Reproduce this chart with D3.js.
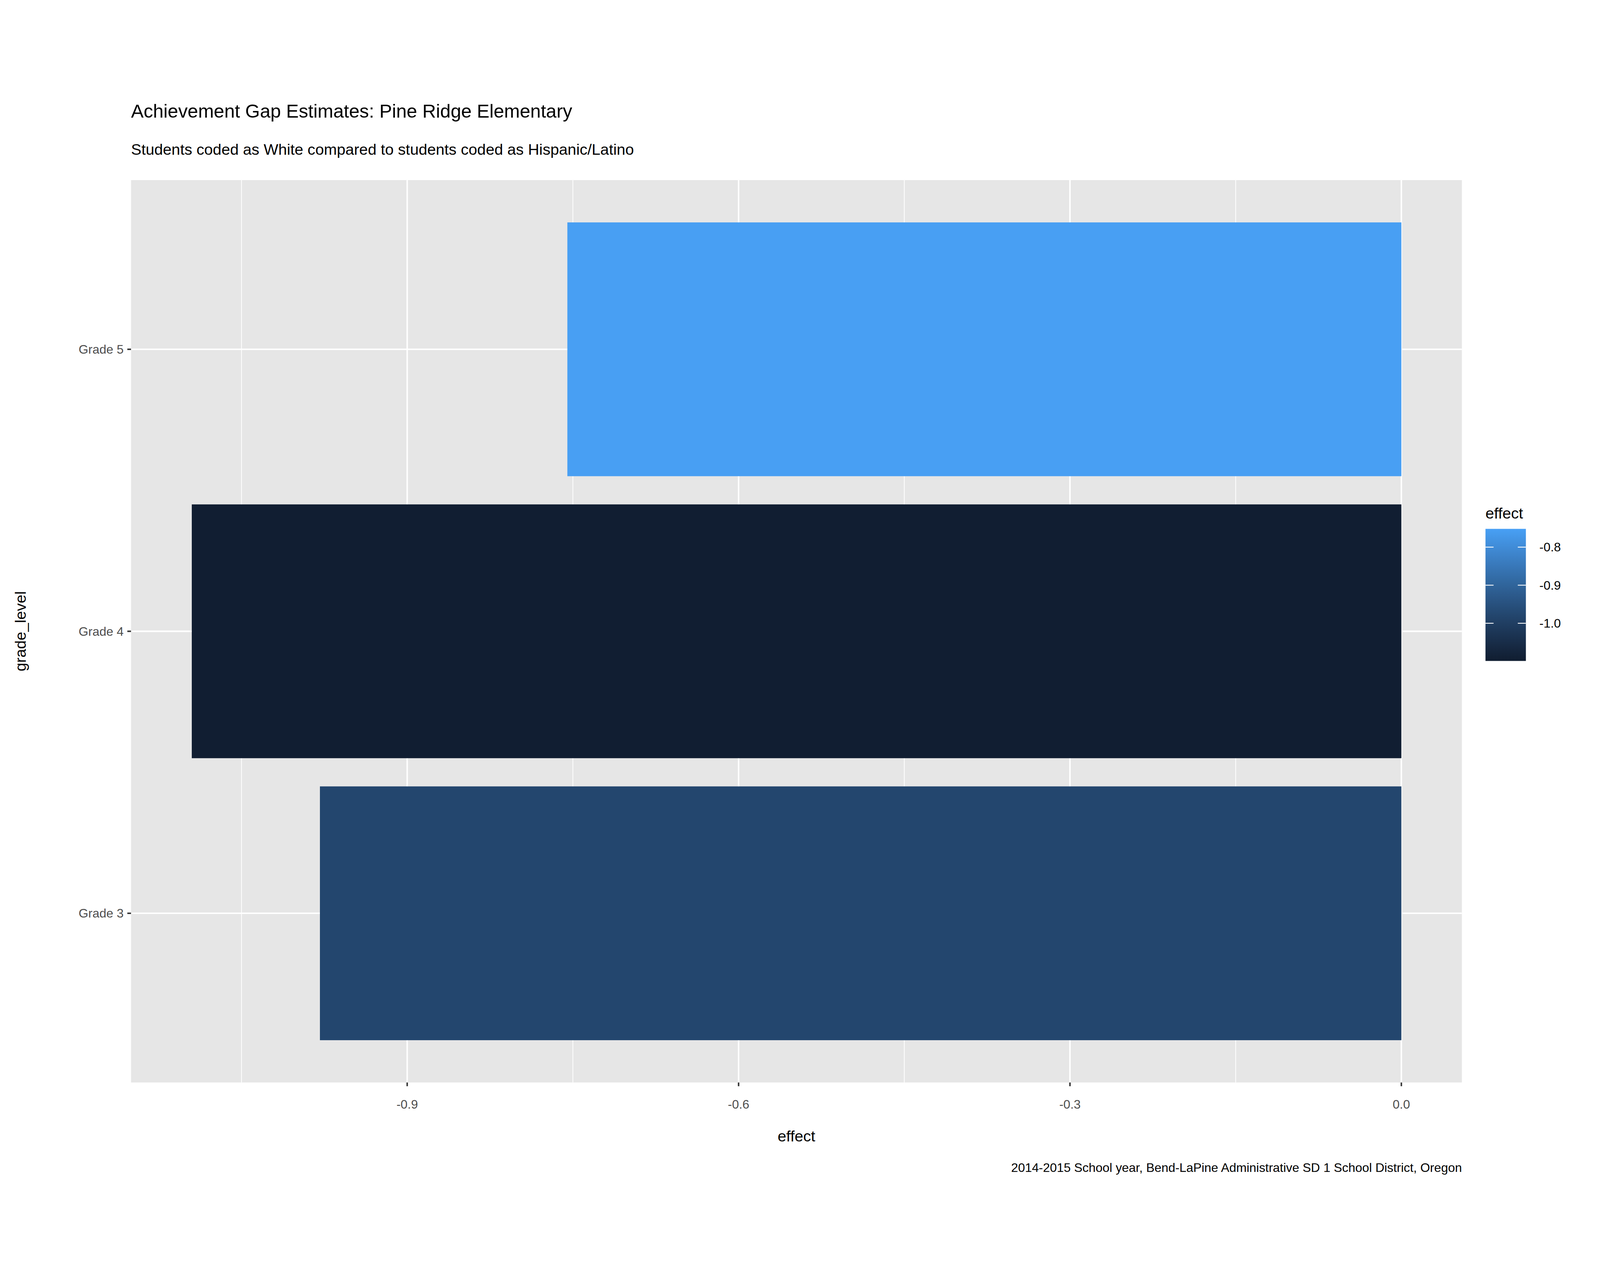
<!DOCTYPE html>
<html><head><meta charset="utf-8">
<script src="https://cdn.jsdelivr.net/npm/d3@7"></script>
<style>html,body{margin:0;padding:0;background:#fff;overflow:hidden}svg{display:block;width:100vw;height:100vh}</style></head>
<body><svg id="c" viewBox="0 0 4750 3250" preserveAspectRatio="xMidYMid meet"></svg>
<script>
const categories = ["Grade 3","Grade 4","Grade 5"];
const effects = [-0.979, -1.095, -0.755];
const xTicks = [-0.9,-0.6,-0.3,0.0];
const xMinor = [-1.05,-0.75,-0.45,-0.15];
const legendTicks = [-0.8,-0.9,-1.0];

const svg = d3.select("#c");
const F = "Liberation Sans, Arial, sans-serif";
const L=389,R=4340,T=275,B=2953;
const x = d3.scaleLinear().domain([-1.15,0.0548]).range([L,R]);
const y = d3.scaleLinear().domain([0.4,3.6]).range([B,T]);
const cmin=-1.099,cmax=-0.752;
const col = d3.scaleLinear().domain([cmin,cmax]).range(["#101d30","#48a0f5"]).interpolate(d3.interpolateLab);

svg.append("rect").attr("x",L).attr("y",T).attr("width",R-L).attr("height",B-T).attr("fill","#e6e6e6");
const g=svg.append("g");
xMinor.forEach(v=>g.append("line").attr("x1",x(v)).attr("x2",x(v)).attr("y1",T).attr("y2",B).attr("stroke","#fff").attr("stroke-width",2.2));
xTicks.forEach(v=>g.append("line").attr("x1",x(v)).attr("x2",x(v)).attr("y1",T).attr("y2",B).attr("stroke","#fff").attr("stroke-width",4.4));
categories.forEach((c,i)=>g.append("line").attr("x1",L).attr("x2",R).attr("y1",y(i+1)).attr("y2",y(i+1)).attr("stroke","#fff").attr("stroke-width",4.4));

svg.selectAll(".bar").data(categories).enter().append("rect")
 .attr("x",(d,i)=>x(effects[i])).attr("width",(d,i)=>x(0)-x(effects[i]))
 .attr("y",(d,i)=>y(i+1.45)).attr("height",(d,i)=>y(i+0.55)-y(i+1.45))
 .attr("fill",(d,i)=>col(effects[i]));

xTicks.forEach(v=>{
 svg.append("line").attr("x1",x(v)).attr("x2",x(v)).attr("y1",B).attr("y2",B+11).attr("stroke","#333").attr("stroke-width",4.4);
 svg.append("text").attr("x",x(v)).attr("y",3030).attr("text-anchor","middle").attr("font-family",F).attr("font-size",37).attr("fill","#4d4d4d").text(v.toFixed(1));
});
categories.forEach((c,i)=>{
 svg.append("line").attr("x1",L-11).attr("x2",L).attr("y1",y(i+1)).attr("y2",y(i+1)).attr("stroke","#333").attr("stroke-width",4.4);
 svg.append("text").attr("x",L-22).attr("y",y(i+1)+13).attr("text-anchor","end").attr("font-family",F).attr("font-size",37).attr("fill","#4d4d4d").text(c);
});
svg.append("text").attr("x",(L+R)/2).attr("y",3128).attr("text-anchor","middle").attr("font-family",F).attr("font-size",46).text("effect");
svg.append("text").attr("transform",`translate(76,${(T+B)/2}) rotate(-90)`).attr("text-anchor","middle").attr("font-family",F).attr("font-size",46).text("grade_level");
svg.append("text").attr("x",L).attr("y",90).attr("font-family",F).attr("font-size",56).text("Achievement Gap Estimates: Pine Ridge Elementary");
svg.append("text").attr("x",L).attr("y",200).attr("font-family",F).attr("font-size",46).text("Students coded as White compared to students coded as Hispanic/Latino");
svg.append("text").attr("x",R).attr("y",3218).attr("text-anchor","end").attr("font-family",F).attr("font-size",37).text("2014-2015 School year, Bend-LaPine Administrative SD 1 School District, Oregon");

const lT=1310,lB=1702,lx=4410,lw=120;
const ly=d3.scaleLinear().domain([cmin,cmax]).range([lB,lT]);
const defs=svg.append("defs").append("linearGradient").attr("id","gr").attr("x1",0).attr("x2",0).attr("y1",1).attr("y2",0);
d3.range(0,1.001,0.1).forEach(t=>defs.append("stop").attr("offset",t).attr("stop-color",col(cmin+t*(cmax-cmin))));
svg.append("rect").attr("x",lx).attr("y",lT).attr("width",lw).attr("height",lB-lT).attr("fill","url(#gr)");
legendTicks.forEach(v=>{
 svg.append("line").attr("x1",lx).attr("x2",lx+24).attr("y1",ly(v)).attr("y2",ly(v)).attr("stroke","#fff").attr("stroke-width",2.5);
 svg.append("line").attr("x1",lx+lw-24).attr("x2",lx+lw).attr("y1",ly(v)).attr("y2",ly(v)).attr("stroke","#fff").attr("stroke-width",2.5);
 svg.append("text").attr("x",4570).attr("y",ly(v)+13).attr("font-family",F).attr("font-size",37).text(v.toFixed(1));
});
svg.append("text").attr("x",lx).attr("y",1280).attr("font-family",F).attr("font-size",46).text("effect");
</script></body></html>
